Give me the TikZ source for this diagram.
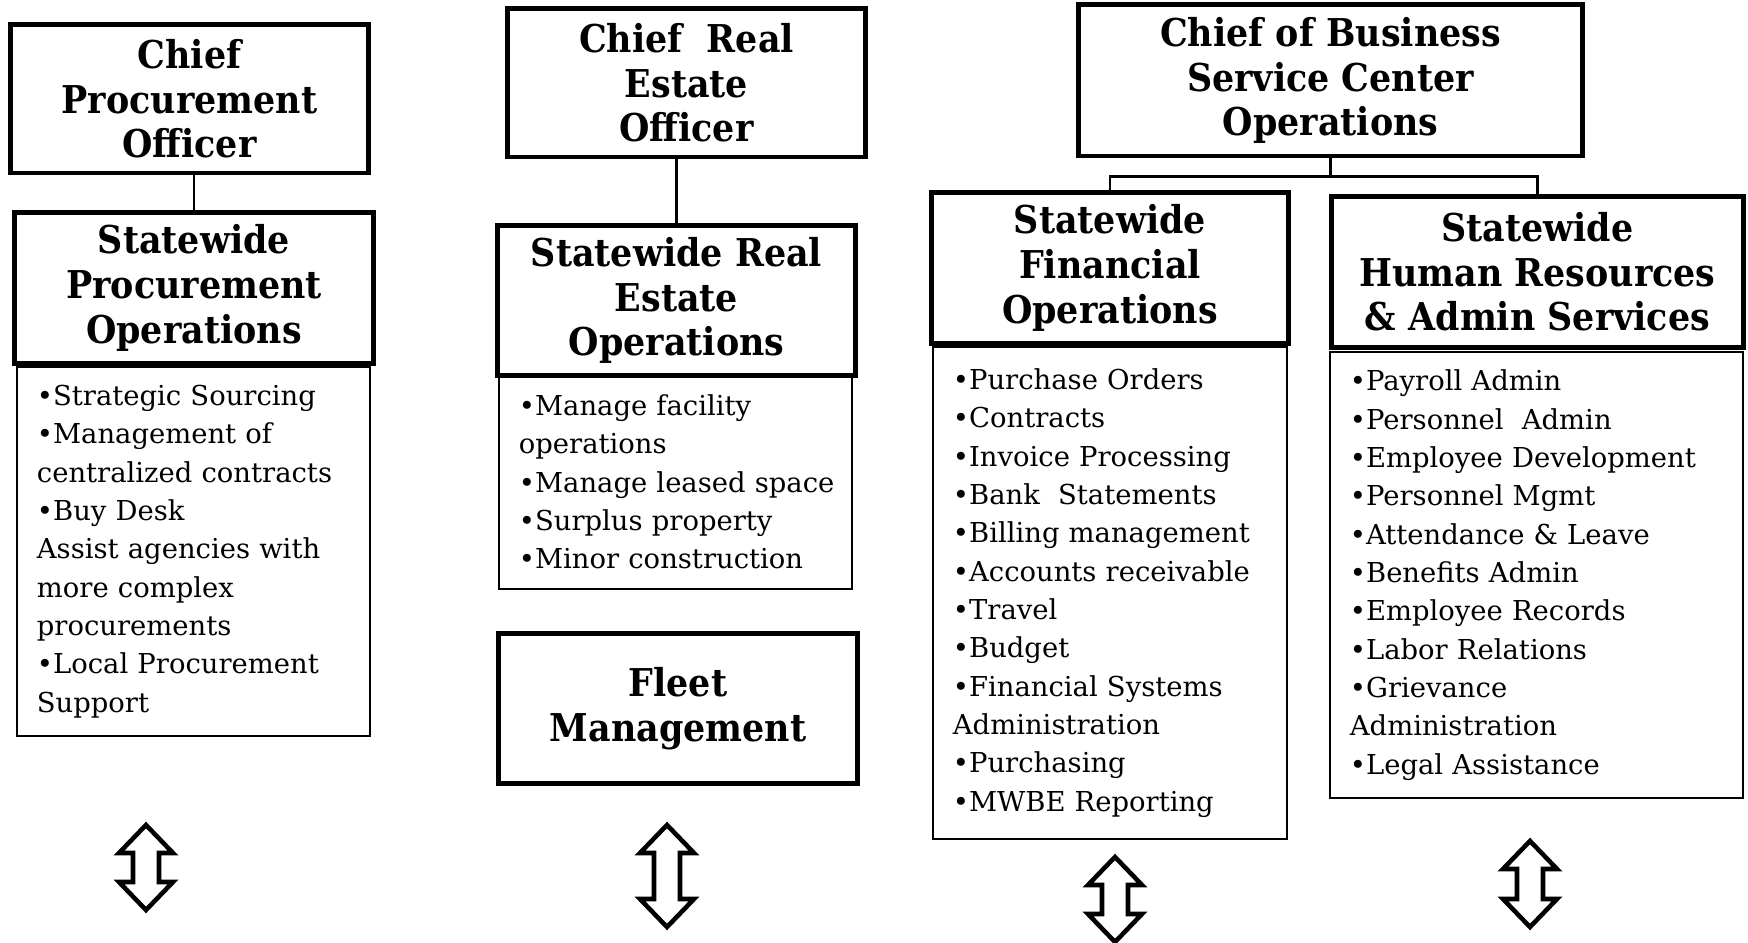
\documentclass[tikz,border=0pt]{standalone}
\usepackage{fontspec}
\setmainfont{DejaVu Serif}
\newfontfamily\headfont[FakeStretch=0.91]{DejaVu Serif}
\begin{document}
\begin{tikzpicture}[x=0.01cm,y=-0.01cm,
  headbox/.style={draw, line width=1.4pt, align=center, inner sep=0pt,
    font=\headfont\bfseries\fontsize{10.9}{12.7}\selectfont},
  listbox/.style={draw, line width=0.6pt, align=left, inner xsep=0.2cm, inner ysep=0pt,
    font=\fontsize{7.8}{10.9}\selectfont},
  link/.style={line width=0.6pt},
  updown/.style={draw, line width=1.3pt, fill=white, line join=miter},
  pics/updown/.style={code={
    \draw[updown] (0,0) -- (27,28) -- (13,28) -- (13,{#1-28}) -- (27,{#1-28})
      -- (0,#1) -- (-27,{#1-28}) -- (-13,{#1-28}) -- (-13,28) -- (-27,28) -- cycle;}}]
\useasboundingbox (0,0) rectangle (1748,943);

% procurement column
\node[headbox, minimum width=3.57cm, minimum height=1.48cm] (cpo) at (189.5,99)
  {Chief\\Procurement\\Officer};
\node[headbox, minimum width=3.58cm, minimum height=1.50cm] (spo) at (194,288)
  {Statewide\\Procurement\\Operations};
\node[listbox, text width=3.13cm, minimum height=3.69cm] (lpo) at (193.5,551.5)
  {•Strategic~Sourcing\\•Management~of\\centralized~contracts\\•Buy~Desk\\Assist~agencies~with\\more~complex\\procurements\\•Local~Procurement\\Support};

% real estate column
\node[headbox, minimum width=3.57cm, minimum height=1.48cm] (cre) at (686.5,83)
  {Chief~ Real\\Estate\\Officer};
\node[headbox, minimum width=3.57cm, minimum height=1.49cm] (sre) at (676.5,300.5)
  {Statewide Real\\Estate\\Operations};
\node[listbox, text width=3.13cm, minimum height=2.14cm] (lre) at (675.5,482)
  {•Manage~facility\\operations\\•Manage~leased~space\\•Surplus~property\\•Minor~construction};
\node[headbox, minimum width=3.58cm, minimum height=1.49cm] (fleet) at (678,708.5)
  {Fleet\\Management};

% business service center column
\node[headbox, minimum width=5.03cm, minimum height=1.51cm] (cbsc) at (1330.5,80.5)
  {Chief of Business\\Service Center\\Operations};
\node[headbox, minimum width=3.56cm, minimum height=1.50cm] (sfo) at (1110,268)
  {Statewide\\Financial\\Operations};
\node[headbox, minimum width=4.11cm, minimum height=1.50cm] (shr) at (1537.5,272)
  {Statewide\\Human Resources\\\& Admin Services};
\node[listbox, text width=3.14cm, minimum height=4.92cm] (lfo) at (1110,593)
  {•Purchase~Orders\\•Contracts\\•Invoice~Processing\\•Bank~~Statements\\•Billing~management\\•Accounts~receivable\\•Travel\\•Budget\\•Financial~Systems\\Administration\\•Purchasing\\•MWBE~Reporting};
\node[listbox, text width=3.73cm, minimum height=4.46cm] (lhr) at (1536.5,575)
  {•Payroll~Admin\\•Personnel~~Admin\\•Employee~Development\\•Personnel~Mgmt\\•Attendance~\&~Leave\\•Benefits~Admin\\•Employee~Records\\•Labor~Relations\\•Grievance\\Administration\\•Legal~Assistance};

% reporting lines
\draw[link] (spo.north |- cpo.south) -- (spo.north);
\draw[link] (sre.north |- cre.south) -- (sre.north);
\draw[link] (cbsc.south) -- ++(0,18) coordinate (split) -| (sfo.north);
\draw[link] (split) -| (shr.north);

% two-way arrows under each column
\pic at (146,825) {updown=85};
\pic at (667,825) {updown=102};
\pic at (1115,857) {updown=85};
\pic at (1530,841) {updown=86};
\end{tikzpicture}
\end{document}
